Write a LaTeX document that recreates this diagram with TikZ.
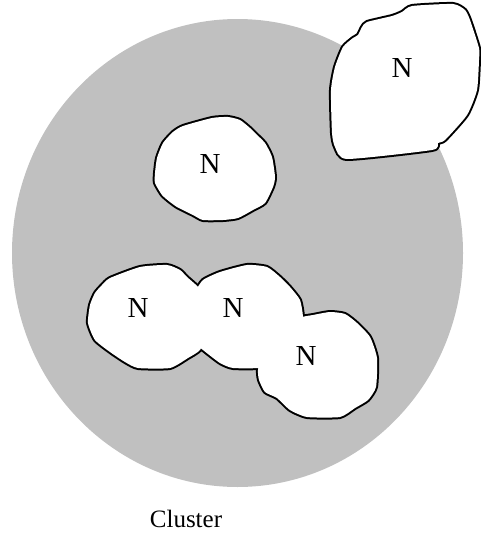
\documentclass[tikz,border=0pt]{standalone}
\usepackage{fontspec}
\setmainfont{Liberation Serif}
\definecolor{clgray}{RGB}{192,192,192}
\tikzset{
  blobline/.style={draw=black, line width=4pt, line join=round},
  blobfill/.style={fill=white},
  nlbl/.style={font=\fontsize{29}{33}\selectfont, inner sep=0pt},
  cllbl/.style={font=\fontsize{25}{30}\selectfont, inner sep=0pt}
}
\begin{document}
\begin{tikzpicture}[x=1pt,y=-1pt]
\useasboundingbox (0,0) rectangle (480,546);
\fill[clgray] (237.5,253) ellipse [x radius=225.5, y radius=234];
\def\blobA{plot[smooth cycle, tension=0.35] coordinates {(332,133) (331,90) (335,67) (343,47) (353,38) (358,35) (362,27) (367,22) (392,16) (402,12) (412,6) (453,4) (465,10) (470,20) (479,48) (479,60) (477,90) (467,115) (445,140) (438,143) (432,150) (347,159) (335,147)}}
\def\blobB{plot[smooth cycle, tension=0.35] coordinates {(183,126) (212,118) (228,117) (240,120) (250,128) (255,133) (265,143) (272,157) (275,177) (273,187) (265,203) (253,210) (238,218) (223,220) (203,220) (193,215) (177,207) (170,202) (162,195) (155,183) (155,173) (157,158) (163,143) (173,132)}}
\def\blobC{plot[smooth cycle, tension=0.35] coordinates {(110,278) (140,267) (167,265) (180,270) (187,277) (198,287) (205,300) (205,335) (200,350) (188,358) (170,368) (138,368) (125,362) (110,352) (95,340) (88,323) (90,305) (95,293) (102,285)}}
\def\blobD{plot[smooth cycle, tension=0.35] coordinates {(203,280) (220,272) (247,265) (267,267) (280,277) (290,287) (300,300) (303,317) (302,340) (285,360) (273,365) (262,368) (233,368) (220,363) (203,350) (192,340) (187,320) (190,305) (195,292)}}
\def\blobE{plot[smooth cycle, tension=0.35] coordinates {(313,315) (330,312) (345,314) (357,323) (370,337) (377,358) (376,387) (368,400) (355,408) (340,417) (307,417) (290,410) (277,398) (265,392) (259,380) (258,370) (262,355) (280,335) (300,318)}}
\draw[blobline] \blobA;
\draw[blobline] \blobB;
\draw[blobline] \blobC;
\draw[blobline] \blobD;
\draw[blobline] \blobE;
\fill[blobfill] \blobA;
\fill[blobfill] \blobB;
\fill[blobfill] \blobC;
\fill[blobfill] \blobD;
\fill[blobfill] \blobE;
\node[nlbl] (n1) at (402,68) {N};
\node[nlbl] (n2) at (210,164) {N};
\node[nlbl] (n3) at (138,308) {N};
\node[nlbl] (n4) at (233,308) {N};
\node[nlbl] (n5) at (306,356) {N};
\node[cllbl] (cl) at (186,519) {Cluster};
\end{tikzpicture}
\end{document}
